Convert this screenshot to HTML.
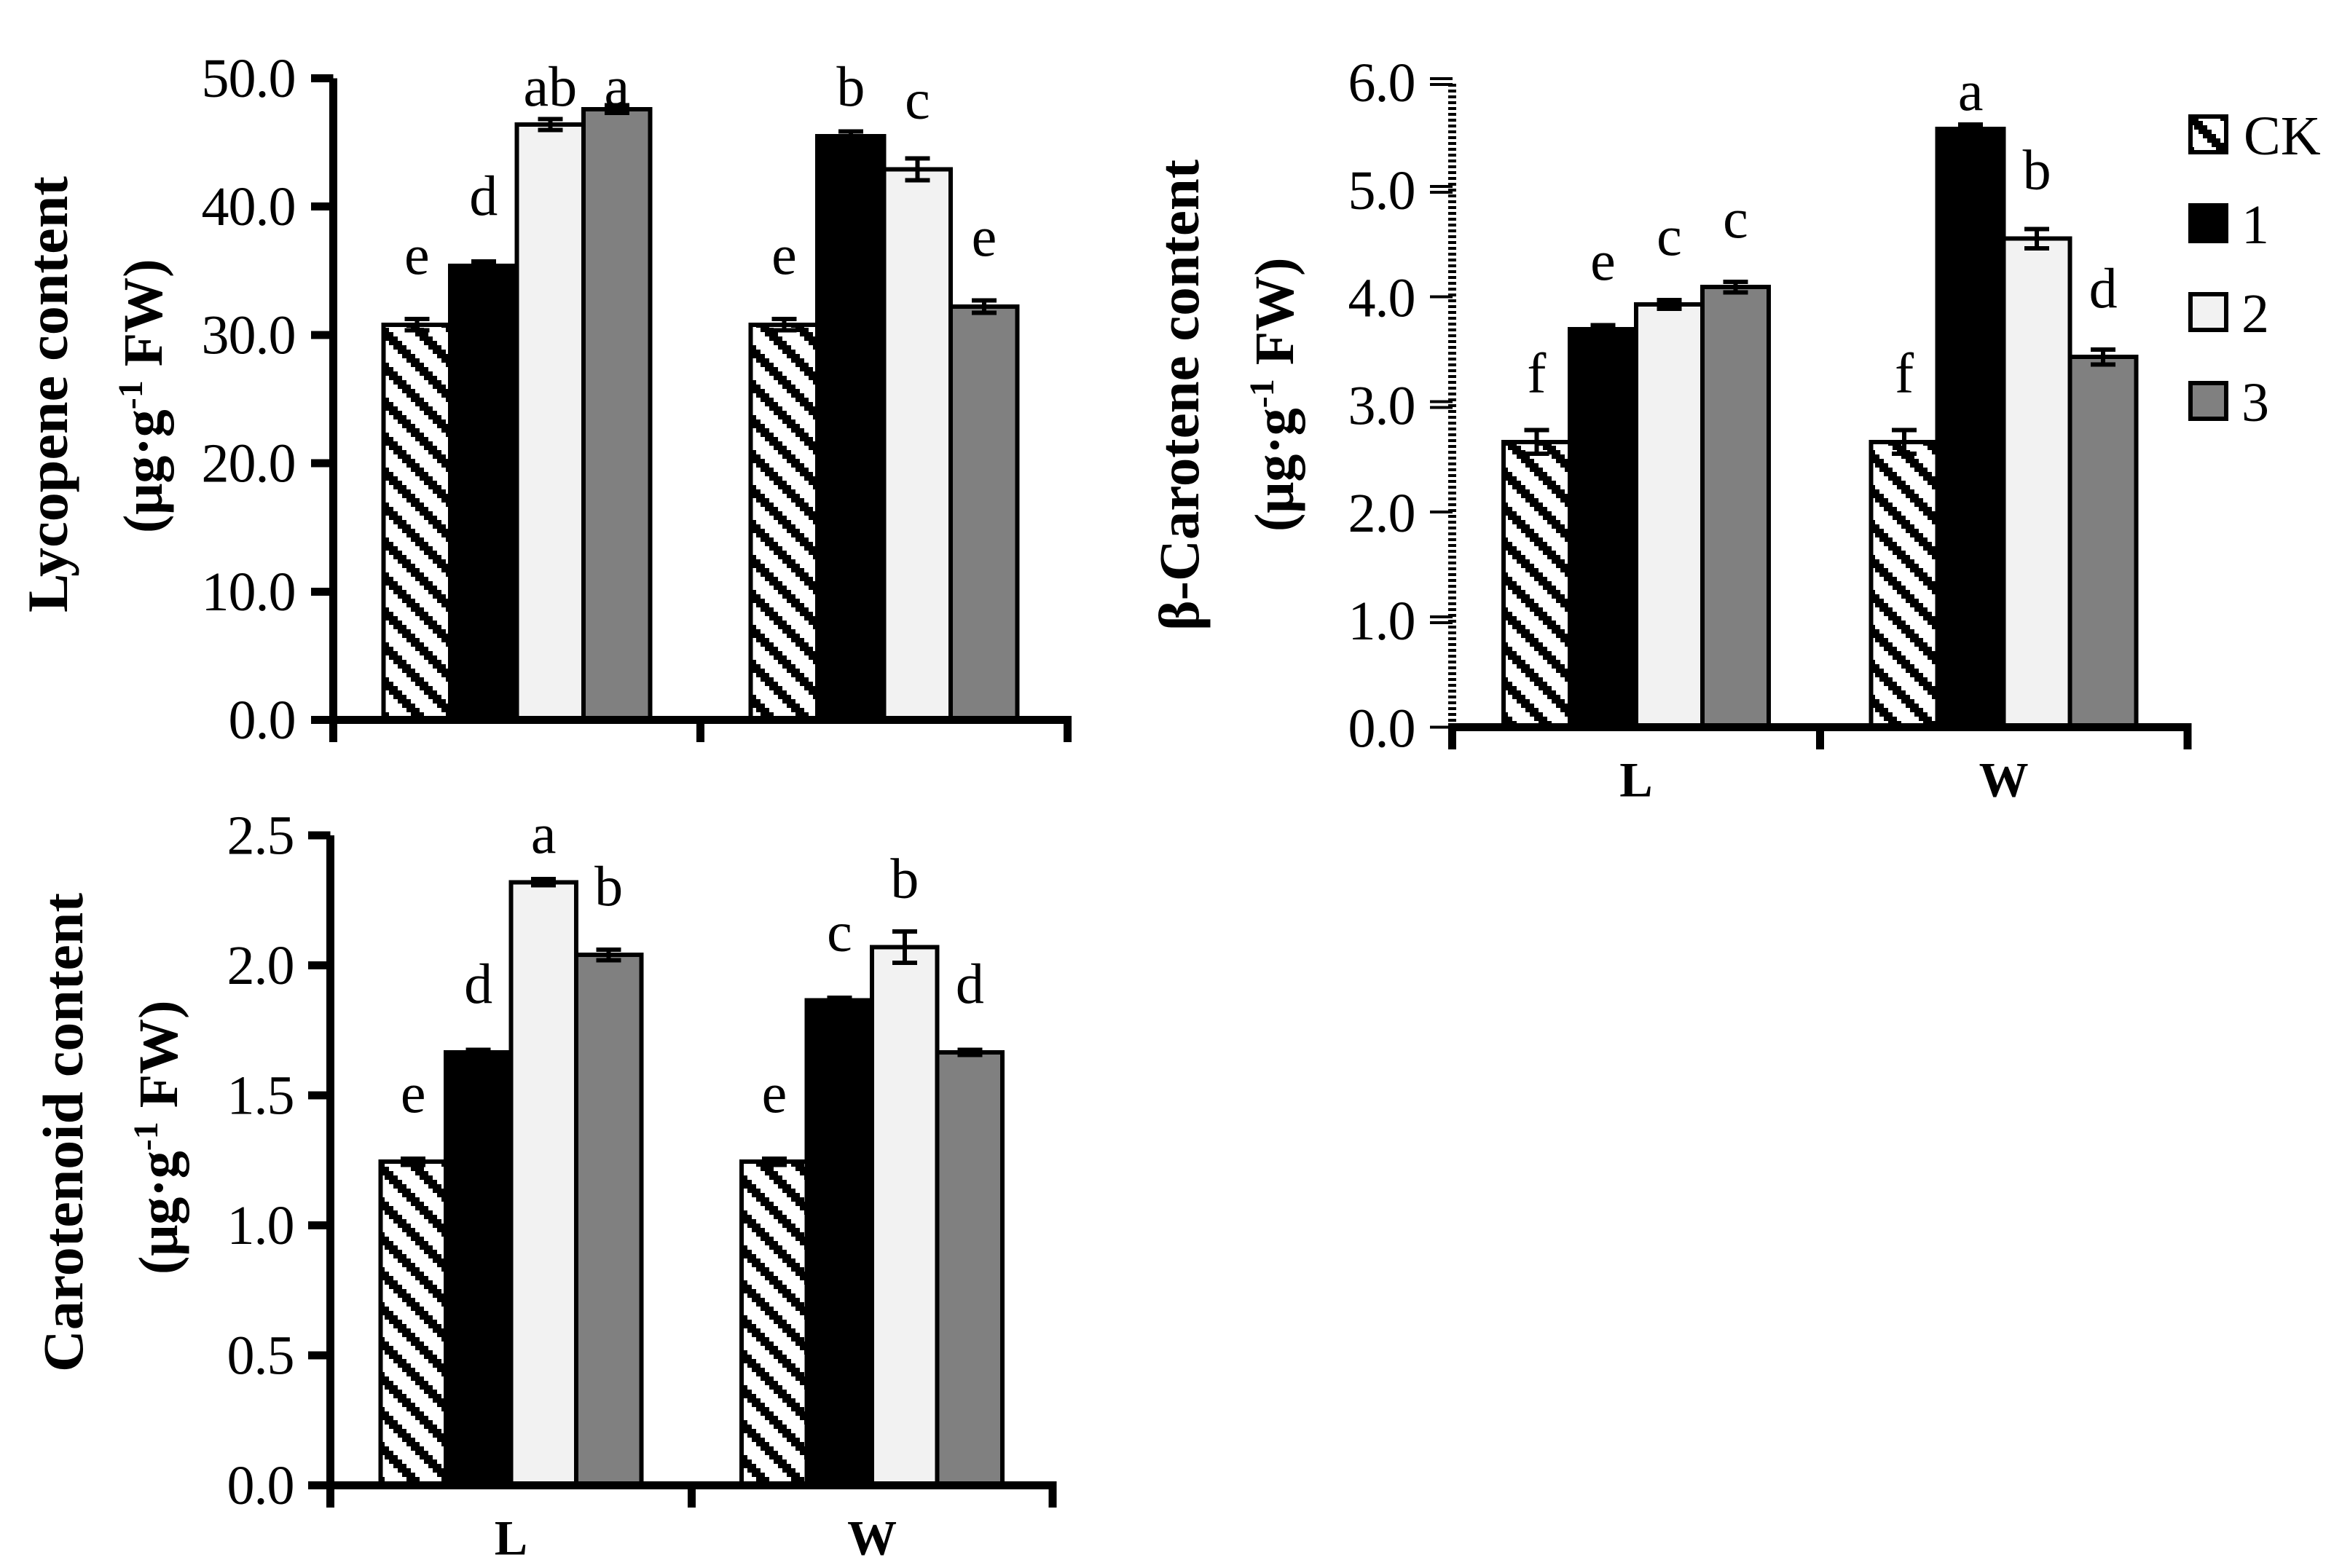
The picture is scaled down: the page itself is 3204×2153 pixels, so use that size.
<!DOCTYPE html>
<html lang="en">
<head>
<meta charset="utf-8">
<title>Lycopene, β-Carotene and Carotenoid content</title>
<style>
  html, body { margin: 0; padding: 0; background: #fff; }
  svg { display: block; }
  text { font-family: "Liberation Serif", serif; fill: #000; }
  .title { font-weight: bold; font-size: 78px; }
  .sub { font-weight: bold; font-size: 76px; }
</style>
</head>
<body>
<svg id="figure" xmlns="http://www.w3.org/2000/svg" width="3204" height="2153" viewBox="0 0 3204 2153">
  <defs>
    <pattern id="hatch" patternUnits="userSpaceOnUse" width="48" height="48" patternTransform="translate(0 18)">
      <rect width="48" height="48" fill="#fff" shape-rendering="crispEdges"/>
      <path shape-rendering="crispEdges" fill="#000" d="M0 0H6V6H12V12H18V18H24V24H30V30H36V36H42V42H48V60H42V54H36V48H30V42H24V36H18V30H12V24H6V18H0Z"/>
      <path shape-rendering="crispEdges" fill="#000" transform="translate(0 -48)" d="M0 0H6V6H12V12H18V18H24V24H30V30H36V36H42V42H48V60H42V54H36V48H30V42H24V36H18V30H12V24H6V18H0Z"/>
    </pattern>
    <pattern id="hatch-legend" patternUnits="userSpaceOnUse" width="48" height="48" patternTransform="translate(0 28)">
      <rect width="48" height="48" fill="#fff" shape-rendering="crispEdges"/>
      <path shape-rendering="crispEdges" fill="#000" d="M0 0H6V6H12V12H18V18H24V24H30V30H36V36H42V42H48V60H42V54H36V48H30V42H24V36H18V30H12V24H6V18H0Z"/>
      <path shape-rendering="crispEdges" fill="#000" transform="translate(0 -48)" d="M0 0H6V6H12V12H18V18H24V24H30V30H36V36H42V42H48V60H42V54H36V48H30V42H24V36H18V30H12V24H6V18H0Z"/>
    </pattern>
  </defs>

  <text class="title" transform="translate(92 841) rotate(-90)" textLength="599" lengthAdjust="spacingAndGlyphs">Lycopene content</text>
  <text class="sub" transform="translate(222 732) rotate(-90)">(μg·g<tspan dy="-27" font-size="48">-1</tspan><tspan dy="27"> FW)</tspan></text>

  <text class="title" transform="translate(1645 866) rotate(-90)" textLength="647" lengthAdjust="spacingAndGlyphs">β-Carotene content</text>
  <text class="sub" transform="translate(1775 730) rotate(-90)">(μg·g<tspan dy="-27" font-size="48">-1</tspan><tspan dy="27"> FW)</tspan></text>

  <text class="title" transform="translate(113 1884) rotate(-90)" textLength="658" lengthAdjust="spacingAndGlyphs">Carotenoid content</text>
  <text class="sub" transform="translate(243 1750) rotate(-90)">(μg·g<tspan dy="-27" font-size="48">-1</tspan><tspan dy="27"> FW)</tspan></text>
</svg>

<script>
const categories = ['L', 'W'];
const seriesNames = ['CK', '1', '2', '3'];

const lycopeneTicks = [0, 10, 20, 30, 40, 50];
const lycopeneTickLabels = ['0.0', '10.0', '20.0', '30.0', '40.0', '50.0'];
const lycopeneL = [30.8, 35.4, 46.4, 47.6];
const lycopeneW = [30.8, 45.5, 42.9, 32.2];
const lycopeneErrL = [0.45, 0.33, 0.42, 0.3];
const lycopeneErrW = [0.45, 0.35, 0.85, 0.48];
const lycopeneLettersL = ['e', 'd', 'ab', 'a'];
const lycopeneLettersW = ['e', 'b', 'c', 'e'];

const betaTicks = [0, 1, 2, 3, 4, 5, 6];
const betaTickLabels = ['0.0', '1.0', '2.0', '3.0', '4.0', '5.0', '6.0'];
const betaL = [2.65, 3.7, 3.93, 4.09];
const betaW = [2.65, 5.56, 4.54, 3.44];
const betaErrL = [0.11, 0.035, 0.04, 0.05];
const betaErrW = [0.11, 0.04, 0.09, 0.07];
const betaLettersL = ['f', 'e', 'c', 'c'];
const betaLettersW = ['f', 'a', 'b', 'd'];

const carotenoidTicks = [0, 0.5, 1, 1.5, 2, 2.5];
const carotenoidTickLabels = ['0.0', '0.5', '1.0', '1.5', '2.0', '2.5'];
const carotenoidL = [1.245, 1.665, 2.32, 2.04];
const carotenoidW = [1.245, 1.865, 2.07, 1.665];
const carotenoidErrL = [0.012, 0.01, 0.012, 0.02];
const carotenoidErrW = [0.012, 0.01, 0.06, 0.01];
const carotenoidLettersL = ['e', 'd', 'a', 'b'];
const carotenoidLettersW = ['e', 'c', 'b', 'd'];

const NS = 'http://www.w3.org/2000/svg';
const svg = document.getElementById('figure');
const fills = ['url(#hatch)', '#000', '#f2f2f2', '#808080'];

function make(tag, attrs, parent) {
  const el = document.createElementNS(NS, tag);
  for (const k in attrs) el.setAttribute(k, attrs[k]);
  (parent || svg).appendChild(el);
  return el;
}
function box(parent, x, y, w, h) {
  return make('rect', { x: x, y: y, width: w, height: h, fill: '#000', 'shape-rendering': 'crispEdges' }, parent);
}

function drawChart(c) {
  const g = make('g', {});
  
  

  const yScale = function (v) {
    return c.yZero - (v / c.yMax) * (c.yZero - c.yTop);
  };
  const catWidth = (c.xEnd - c.xStart) / categories.length;
  const thick = 11;

  /* y axis */
  if (c.dotted) {
    const ax = make('line', { x1: c.xStart, x2: c.xStart, y1: c.yTop + 3, y2: c.yZero - 5, stroke: '#000', 'stroke-width': thick, 'stroke-dasharray': '4.2 3.8', 'shape-rendering': 'crispEdges' }, g);
    
    
  } else {
    const ax = box(g, c.xStart - thick / 2, c.yTop, thick, c.yZero - c.yTop);
    
    
  }

  /* y ticks and labels */
  c.ticks.forEach(function (t, i) {
    const y = yScale(t);
    if (c.dotted) {
      const isDouble = i % 2 === 1 || i === c.ticks.length - 1;
      const offs = isDouble ? [-4, 4] : [0];
      offs.forEach(function (o) {
        const m = box(g, c.xStart - 30.5, y + o - 2, 31, 4);
        
        
      });
    } else {
      const m = box(g, c.xStart - 30.5, y - thick / 2, 30.5, thick);
      
      
    }
    const lab = make('text', { x: c.xStart - c.labelGap, y: y + c.labelDy, 'text-anchor': 'end', 'font-size': 76, 'letter-spacing': -1 }, g);
    lab.textContent = c.tickLabels[i];
    
    
  });

  /* bars, error bars, significance letters */
  categories.forEach(function (cat, ci) {
    const center = c.xStart + catWidth * (ci + 0.5);
    const left = center - 2 * c.pitch;
    c.values[ci].forEach(function (v, si) {
      const top = yScale(v);
      const x = left + si * c.pitch;
      const bar = make('rect', { x: x, y: top, width: c.pitch, height: c.yZero - top, fill: fills[si], stroke: '#000', 'stroke-width': 6, 'shape-rendering': 'crispEdges' }, g);
      
      

      const mid = x + c.pitch / 2;
      const hi = yScale(v + c.errors[ci][si]);
      const lo = yScale(v - c.errors[ci][si]);
      const stem = box(g, mid - 3, hi, 6, lo - hi);
      
      
      const capTop = box(g, mid - 17, hi - 3, 34, 6);
      
      
      const capBottom = box(g, mid - 17, lo - 3, 34, 6);
      
      

      const letter = make('text', { x: mid, y: Math.max(top - c.letterGap, c.letterMinY), 'text-anchor': 'middle', 'font-size': 78 }, g);
      letter.textContent = c.letters[ci][si];
      
      
    });
  });

  /* x axis */
  const xAxis = box(g, c.xStart - (c.dotted ? 5.5 : 30.5), c.yZero - thick / 2, c.xEnd - c.xStart + (c.dotted ? 11 : 36), thick);
  
  

  for (let i = 0; i <= categories.length; i++) {
    const tx = c.xStart + catWidth * i;
    const t = box(g, tx - thick / 2, c.yZero, thick, 30.5);
    
    
  }

  if (c.showCats) {
    categories.forEach(function (cat, ci) {
      const lab = make('text', { x: c.xStart + catWidth * (ci + 0.5), y: c.yZero + 95, 'text-anchor': 'middle', 'font-size': 68, 'font-weight': 'bold' }, g);
      lab.textContent = cat;
      
      
    });
  }
}

drawChart({
  name: 'lycopene',
  xStart: 457.5, xEnd: 1465.7, yZero: 988.5, yTop: 107.5, yMax: 50, pitch: 91.5,
  ticks: lycopeneTicks, tickLabels: lycopeneTickLabels,
  values: [lycopeneL, lycopeneW], errors: [lycopeneErrL, lycopeneErrW],
  letters: [lycopeneLettersL, lycopeneLettersW],
  letterGap: 70, letterMinY: 145, labelGap: 52, labelDy: 25.5, dotted: false, showCats: false
});

drawChart({
  name: 'beta-carotene',
  xStart: 1993.5, xEnd: 3003, yZero: 998.5, yTop: 112, yMax: 6, pitch: 91,
  ticks: betaTicks, tickLabels: betaTickLabels,
  values: [betaL, betaW], errors: [betaErrL, betaErrW],
  letters: [betaLettersL, betaLettersW],
  letterGap: 68, letterMinY: 151, labelGap: 51, labelDy: 27, dotted: true, showCats: true
});

drawChart({
  name: 'carotenoid',
  xStart: 453.5, xEnd: 1445, yZero: 2039.5, yTop: 1147, yMax: 2.5, pitch: 89.5,
  ticks: carotenoidTicks, tickLabels: carotenoidTickLabels,
  values: [carotenoidL, carotenoidW], errors: [carotenoidErrL, carotenoidErrW],
  letters: [carotenoidLettersL, carotenoidLettersW],
  letterGap: 68, letterMinY: 1171, labelGap: 50, labelDy: 25.5, dotted: false, showCats: true
});

/* legend */
const legend = make('g', {});


seriesNames.forEach(function (s, i) {
  const y = 160 + i * 122;
  const swatch = make('rect', { x: 3007, y: y, width: 49, height: 49, fill: i === 0 ? 'url(#hatch-legend)' : fills[i], stroke: '#000', 'stroke-width': 6, 'shape-rendering': 'crispEdges' }, legend);
  
  
  const label = make('text', { x: i === 0 ? 3080 : 3077, y: y + 52, 'font-size': 76 }, legend);
  label.textContent = s;
  
  
});
</script>
</body>
</html>
